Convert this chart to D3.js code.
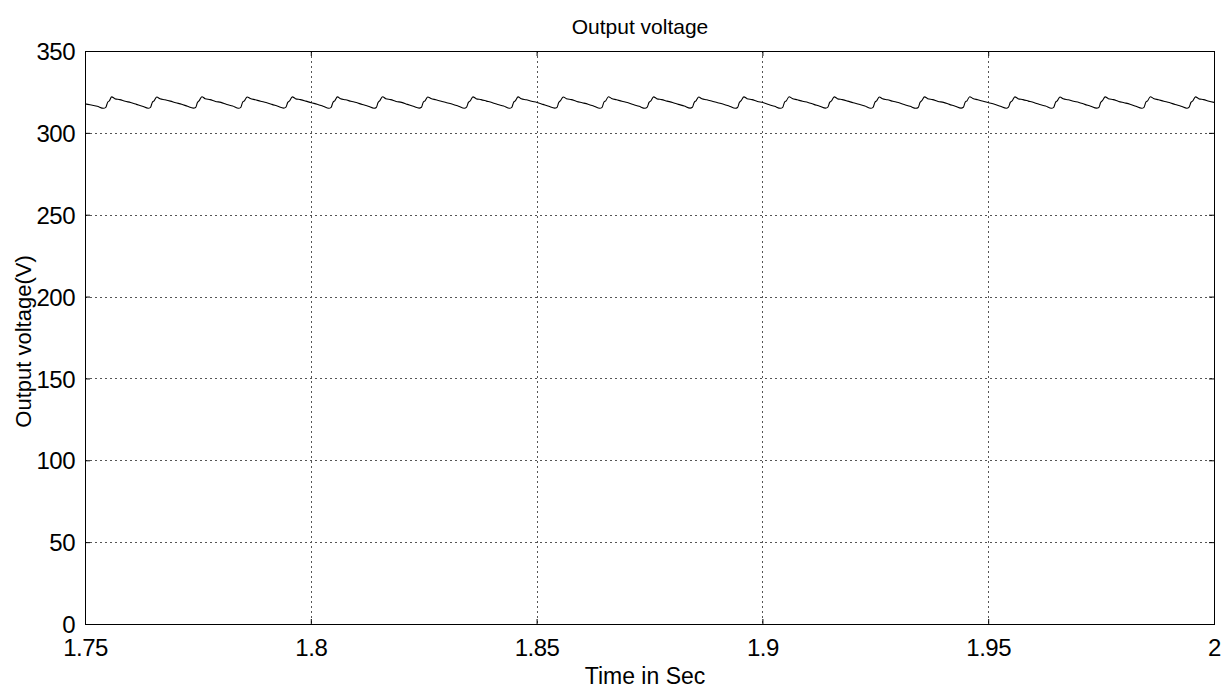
<!DOCTYPE html>
<html>
<head>
<meta charset="utf-8">
<script src="https://cdn.jsdelivr.net/npm/d3@7"></script>
<style>
  body { margin: 0; background: #fff; }
  text { font-family: "Liberation Sans", Arial, sans-serif; fill: #000; }
</style>
</head>
<body>
<div id="chart"></div>
<script>
// ---- data ----
var titleText = "Output voltage";
var xLabelText = "Time in Sec";
var yLabelText = "Output voltage(V)";

var xTicks = [1.75, 1.8, 1.85, 1.9, 1.95, 2];
var xTickLabels = ["1.75", "1.8", "1.85", "1.9", "1.95", "2"];
var yTicks = [0, 50, 100, 150, 200, 250, 300, 350];
var yTickLabels = ["0", "50", "100", "150", "200", "250", "300", "350"];

// output voltage samples [time (s), volts]
var voltage = [
  [1.7500,317.7],[1.7511,317.2],[1.7527,316.3],[1.7541,315.0],[1.7546,315.6],[1.7550,318.6],[1.7554,319.6],
  [1.7559,322.0],[1.7566,320.9],[1.7577,320.3],[1.7589,319.3],[1.7601,318.5],[1.7614,317.4],[1.7627,316.3],[1.7640,315.0],[1.7645,315.6],[1.7649,318.6],[1.7653,319.6],
  [1.7659,321.9],[1.7666,320.8],[1.7677,320.2],[1.7689,319.4],[1.7701,318.4],[1.7714,317.5],[1.7727,316.2],[1.7740,315.1],[1.7745,315.5],[1.7749,318.5],[1.7753,319.7],
  [1.7759,322.1],[1.7766,320.9],[1.7777,320.3],[1.7789,319.2],[1.7801,318.6],[1.7814,317.3],[1.7827,316.4],[1.7840,315.0],[1.7845,315.6],[1.7849,318.7],[1.7853,319.6],
  [1.7859,321.9],[1.7866,321.0],[1.7877,320.2],[1.7889,319.3],[1.7901,318.5],[1.7914,317.4],[1.7927,316.2],[1.7940,315.1],[1.7945,315.7],[1.7949,318.6],[1.7953,319.5],
  [1.7959,322.0],[1.7966,320.9],[1.7977,320.3],[1.7989,319.4],[1.8001,318.4],[1.8014,317.5],[1.8027,316.3],[1.8040,315.0],[1.8045,315.6],[1.8049,318.6],[1.8053,319.6],
  [1.8059,322.0],[1.8066,320.8],[1.8077,320.2],[1.8089,319.3],[1.8101,318.5],[1.8114,317.3],[1.8127,316.3],[1.8140,315.0],[1.8145,315.5],[1.8149,318.5],[1.8153,319.7],
  [1.8159,322.1],[1.8166,320.9],[1.8177,320.3],[1.8189,319.2],[1.8201,318.6],[1.8214,317.4],[1.8227,316.2],[1.8240,315.1],[1.8245,315.6],[1.8249,318.7],[1.8253,319.6],
  [1.8259,321.9],[1.8266,321.0],[1.8277,320.2],[1.8289,319.3],[1.8301,318.4],[1.8314,317.5],[1.8327,316.3],[1.8340,315.0],[1.8345,315.7],[1.8349,318.6],[1.8353,319.5],
  [1.8359,322.0],[1.8366,320.9],[1.8377,320.3],[1.8389,319.4],[1.8401,318.5],[1.8414,317.3],[1.8427,316.4],[1.8440,315.0],[1.8445,315.6],[1.8449,318.6],[1.8453,319.6],
  [1.8459,322.0],[1.8466,320.8],[1.8477,320.2],[1.8489,319.3],[1.8501,318.6],[1.8514,317.4],[1.8527,316.2],[1.8540,315.1],[1.8545,315.5],[1.8549,318.5],[1.8553,319.7],
  [1.8559,321.9],[1.8566,320.9],[1.8577,320.3],[1.8589,319.2],[1.8601,318.4],[1.8614,317.5],[1.8627,316.3],[1.8640,315.0],[1.8645,315.6],[1.8649,318.7],[1.8653,319.6],
  [1.8659,322.1],[1.8666,321.0],[1.8677,320.2],[1.8689,319.3],[1.8701,318.5],[1.8714,317.3],[1.8727,316.2],[1.8740,315.0],[1.8745,315.7],[1.8749,318.6],[1.8753,319.5],
  [1.8759,322.0],[1.8766,320.9],[1.8777,320.3],[1.8789,319.4],[1.8801,318.6],[1.8814,317.4],[1.8827,316.4],[1.8840,315.1],[1.8845,315.6],[1.8849,318.6],[1.8853,319.6],
  [1.8859,321.9],[1.8866,320.8],[1.8877,320.2],[1.8889,319.3],[1.8901,318.4],[1.8914,317.5],[1.8927,316.3],[1.8940,315.0],[1.8945,315.5],[1.8949,318.5],[1.8953,319.7],
  [1.8959,322.0],[1.8966,320.9],[1.8977,320.3],[1.8989,319.2],[1.9001,318.5],[1.9014,317.3],[1.9027,316.2],[1.9040,315.0],[1.9045,315.6],[1.9049,318.7],[1.9053,319.6],
  [1.9059,322.1],[1.9066,321.0],[1.9077,320.2],[1.9089,319.3],[1.9101,318.6],[1.9114,317.4],[1.9127,316.3],[1.9140,315.1],[1.9145,315.7],[1.9149,318.6],[1.9153,319.5],
  [1.9159,322.0],[1.9166,320.9],[1.9177,320.3],[1.9189,319.4],[1.9201,318.4],[1.9214,317.5],[1.9227,316.4],[1.9240,315.0],[1.9245,315.6],[1.9249,318.6],[1.9253,319.6],
  [1.9259,321.9],[1.9266,320.8],[1.9277,320.2],[1.9289,319.3],[1.9301,318.5],[1.9314,317.3],[1.9327,316.2],[1.9340,315.0],[1.9345,315.5],[1.9349,318.5],[1.9353,319.7],
  [1.9359,322.0],[1.9366,320.9],[1.9377,320.3],[1.9389,319.2],[1.9401,318.6],[1.9414,317.4],[1.9427,316.3],[1.9440,315.1],[1.9445,315.6],[1.9449,318.7],[1.9453,319.6],
  [1.9459,322.1],[1.9466,321.0],[1.9477,320.2],[1.9489,319.3],[1.9501,318.4],[1.9514,317.5],[1.9527,316.2],[1.9540,315.0],[1.9545,315.7],[1.9549,318.6],[1.9553,319.5],
  [1.9559,322.0],[1.9566,320.9],[1.9577,320.3],[1.9589,319.4],[1.9601,318.5],[1.9614,317.3],[1.9627,316.4],[1.9640,315.0],[1.9645,315.6],[1.9649,318.6],[1.9653,319.6],
  [1.9659,321.9],[1.9666,320.8],[1.9677,320.2],[1.9689,319.3],[1.9701,318.6],[1.9714,317.4],[1.9727,316.3],[1.9740,315.1],[1.9745,315.5],[1.9749,318.5],[1.9753,319.7],
  [1.9759,322.0],[1.9766,320.9],[1.9777,320.3],[1.9789,319.2],[1.9801,318.4],[1.9814,317.5],[1.9827,316.2],[1.9840,315.0],[1.9845,315.6],[1.9849,318.7],[1.9853,319.6],
  [1.9859,322.1],[1.9866,321.0],[1.9877,320.2],[1.9889,319.3],[1.9901,318.5],[1.9914,317.3],[1.9927,316.3],[1.9940,315.0],[1.9945,315.7],[1.9949,318.6],[1.9953,319.5],
  [1.9959,322.0],[1.9966,320.9],[1.9977,320.3],[1.9989,319.3],[2.0000,318.6]
];

// ---- layout ----
var svgWidth = 1232;
var svgHeight = 690;
var margin = { top: 51, right: 18, bottom: 66, left: 85 };
var chartWidth = svgWidth - margin.left - margin.right;
var chartHeight = svgHeight - margin.top - margin.bottom;

var svg = d3.select("#chart")
    .append("svg")
    .attr("width", svgWidth)
    .attr("height", svgHeight);

svg.append("rect").attr("width", svgWidth).attr("height", svgHeight).attr("fill", "#fff");

var chartGroup = svg.append("g")
    .attr("transform", `translate(${margin.left}, ${margin.top})`);

// scales
var xScale = d3.scaleLinear().domain([1.75, 2]).range([0, chartWidth]);
var yScale = d3.scaleLinear().domain([0, 350]).range([chartHeight, 0]);

// dotted grid
chartGroup.append("g").selectAll("line.vgrid")
    .data(xTicks.slice(1, -1)).enter()
    .append("line")
    .attr("x1", d => Math.round(xScale(d)) + 0.5).attr("x2", d => Math.round(xScale(d)) + 0.5)
    .attr("y1", 0).attr("y2", chartHeight)
    .attr("stroke", "#555").attr("stroke-dasharray", "2,3");

chartGroup.append("g").selectAll("line.hgrid")
    .data(yTicks.slice(1, -1)).enter()
    .append("line")
    .attr("y1", d => Math.round(yScale(d)) + 0.5).attr("y2", d => Math.round(yScale(d)) + 0.5)
    .attr("x1", 0).attr("x2", chartWidth)
    .attr("stroke", "#555").attr("stroke-dasharray", "2,3");

// axes with inward ticks
var bottomAxis = d3.axisBottom(xScale).tickValues(xTicks)
    .tickFormat((d, i) => xTickLabels[i]).tickSizeInner(-5).tickSizeOuter(0).tickPadding(15);
var leftAxis = d3.axisLeft(yScale).tickValues(yTicks)
    .tickFormat((d, i) => yTickLabels[i]).tickSizeInner(-5).tickSizeOuter(0).tickPadding(10);
var topAxis = d3.axisTop(xScale).tickValues(xTicks).tickFormat("").tickSizeInner(-5).tickSizeOuter(0);
var rightAxis = d3.axisRight(yScale).tickValues(yTicks).tickFormat("").tickSizeInner(-5).tickSizeOuter(0);

var gx = chartGroup.append("g").attr("transform", `translate(0, ${chartHeight})`).call(bottomAxis);
var gy = chartGroup.append("g").call(leftAxis);
var gt = chartGroup.append("g").call(topAxis);
var gr = chartGroup.append("g").attr("transform", `translate(${chartWidth}, 0)`).call(rightAxis);

[gx, gy, gt, gr].forEach(function (g) {
    g.select(".domain").remove();
    g.selectAll(".tick line").attr("stroke", "#000");
    g.selectAll(".tick text").attr("font-size", 24).attr("font-family", "Liberation Sans, Arial, sans-serif")
        .attr("letter-spacing", "-0.5");
});
gy.selectAll(".tick text").attr("dy", "0.36em");

// frame
chartGroup.append("rect")
    .attr("x", 0.5).attr("y", 0.5)
    .attr("width", chartWidth).attr("height", chartHeight)
    .attr("fill", "none").attr("stroke", "#000");

// the waveform
var line = d3.line()
    .curve(d3.curveMonotoneX)
    .x(d => xScale(d[0]))
    .y(d => yScale(d[1]));

chartGroup.append("path")
    .datum(voltage)
    .attr("d", line)
    .attr("fill", "none")
    .attr("stroke", "#000")
    .attr("stroke-width", 1.1);

// title and axis labels
svg.append("text")
    .attr("x", 640)
    .attr("y", 34)
    .attr("text-anchor", "middle")
    .attr("font-size", 21)
    .text(titleText);

svg.append("text")
    .attr("x", 645)
    .attr("y", 684)
    .attr("text-anchor", "middle")
    .attr("font-size", 23)
    .text(xLabelText);

svg.append("text")
    .attr("transform", `translate(31, ${margin.top + chartHeight / 2 + 4}) rotate(-90)`)
    .attr("text-anchor", "middle")
    .attr("font-size", 22)
    .text(yLabelText);
</script>
</body>
</html>
